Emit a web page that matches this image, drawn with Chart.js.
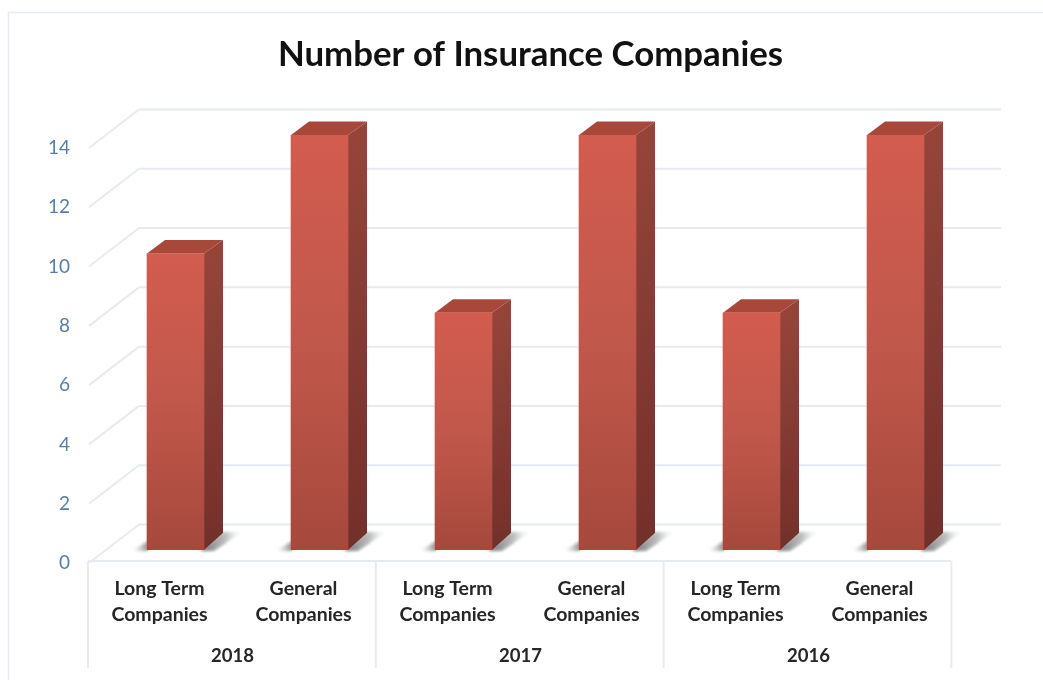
<!DOCTYPE html>
<html>
<head>
<meta charset="utf-8">
<script src="https://cdn.jsdelivr.net/npm/chart.js@4/dist/chart.umd.min.js"></script>
<style>
html,body{margin:0;padding:0;background:#fff;overflow:hidden}
canvas{display:block}
</style>
</head>
<body>
<canvas id="chart" width="1043" height="680"></canvas>
<script>
const categories = [
  ["Long Term", "Companies"], ["General", "Companies"],
  ["Long Term", "Companies"], ["General", "Companies"],
  ["Long Term", "Companies"], ["General", "Companies"]
];
const years = ["2018", "2017", "2016"];
const companyCounts = [10, 14, 8, 14, 8, 14];

const chartTitle = "Number of Insurance Companies";
const gridColor = "#e7eaf0";
const FRONT_SHIFT = 15.5;   // front plane sits left of the bars
const WALL_RIGHT = 1001;

function polygon(ctx, pts, fill) {
  ctx.beginPath();
  pts.forEach((p, i) => i ? ctx.lineTo(p[0], p[1]) : ctx.moveTo(p[0], p[1]));
  ctx.closePath();
  ctx.fillStyle = fill;
  ctx.fill();
}

function line(ctx, x1, y1, x2, y2) {
  ctx.beginPath();
  ctx.moveTo(x1, y1);
  ctx.lineTo(x2, y2);
  ctx.stroke();
}

// Back wall, side wall, floor and the box around the category labels
const wallsPlugin = {
  id: "walls",
  beforeDatasetsDraw(chart) {
    const { ctx, scales: { x, y } } = chart;
    const band = x.getPixelForValue(1) - x.getPixelForValue(0);
    const frontLeft = x.getPixelForValue(0) - band / 2 - FRONT_SHIFT;
    const backLeft = frontLeft + 51;
    ctx.save();

    // page frame
    ctx.strokeStyle = "#e8ebf1";
    ctx.lineWidth = 1.5;
    line(ctx, 8.5, 12, 8.5, 680);
    line(ctx, 8, 12.5, 1043, 12.5);

    ctx.strokeStyle = gridColor;
    ctx.lineWidth = 2;
    y.ticks.forEach(t => {
      const py = y.getPixelForValue(t.value);
      line(ctx, backLeft, py - 25.5, WALL_RIGHT, py - 25.5);
      line(ctx, frontLeft + 1, py + 13, backLeft, py - 25.5);
    });

    // category box
    const y0 = y.getPixelForValue(0) + 11;
    line(ctx, frontLeft, y0, frontLeft + band * 6 - 1, y0);
    for (let i = 0; i <= 3; i++) {
      const px = frontLeft + i * band * 2 - i * 0.2;
      line(ctx, px, y0, px, 668);
    }

    // floor shadows, then side and top faces
    chart.getDatasetMeta(0).data.forEach(bar => {
      const l = bar.x - bar.width / 2, r = bar.x + bar.width / 2;
      const b = bar.base, t = bar.y;
      ctx.save();
      ctx.filter = "blur(1.5px)";
      const shade = ctx.createLinearGradient(r, 0, r + 38, 0);
      shade.addColorStop(0, "rgba(110,112,115,0.9)");
      shade.addColorStop(0.55, "rgba(140,142,145,0.6)");
      shade.addColorStop(1, "rgba(200,202,205,0)");
      polygon(ctx, [[r - 4, b + 1], [r + 19, b - 18], [r + 38, b - 18], [r + 10, b + 1]], shade);
      const lead = ctx.createLinearGradient(l - 15, 0, l, 0);
      lead.addColorStop(0, "rgba(190,190,190,0)");
      lead.addColorStop(1, "rgba(125,128,132,0.85)");
      polygon(ctx, [[l - 16, b + 1], [l + 1, b + 1], [l + 1, b - 9]], lead);
      ctx.restore();

      const side = ctx.createLinearGradient(0, t, 0, b);
      side.addColorStop(0, "#96443a");
      side.addColorStop(1, "#72302a");
      polygon(ctx, [[r, t], [r + 19, t - 13.5], [r + 19, b - 17], [r, b]], side);
      polygon(ctx, [[l, t], [l + 18, t - 13.5], [r + 19, t - 13.5], [r, t]], "#a7483b");
    });
    ctx.restore();
  }
};

new Chart(document.getElementById("chart"), {
  type: "bar",
  plugins: [wallsPlugin],
  data: {
    labels: categories,
    datasets: [{
      data: companyCounts,
      xAxisID: "x",
      yAxisID: "y",
      barThickness: 57,
      backgroundColor(ctx) {
        const s = ctx.chart.scales.y;
        if (!s || ctx.raw === undefined) return "#c0564a";
        const top = s.getPixelForValue(ctx.raw), bottom = s.getPixelForValue(0);
        if (!Number.isFinite(top) || !Number.isFinite(bottom)) return "#c0564a";
        const g = ctx.chart.ctx.createLinearGradient(0, top, 0, bottom);
        g.addColorStop(0, "#d25c4f");
        g.addColorStop(0.5, "#c0584b");
        g.addColorStop(1, "#a6483c");
        return g;
      }
    }]
  },
  options: {
    responsive: false,
    animation: false,
    layout: { padding: { left: 18, right: 0, top: 0, bottom: 0 } },
    plugins: {
      legend: { display: false },
      tooltip: { enabled: false },
      title: {
        display: true,
        text: chartTitle,
        color: "#111111",
        font: { family: "Lato", size: 34.8, weight: "700" },
        padding: { top: 34, bottom: 59.2 }
      }
    },
    scales: {
      y: {
        min: 0,
        max: 14,
        border: { display: false },
        grid: { display: false, drawTicks: false },
        ticks: {
          stepSize: 2,
          color: "#5a7da3",
          padding: 33.5,
          labelOffset: 13,
          font: { family: "Lato", size: 19 }
        },
        afterFit(s) { s.width = 85.5; }
      },
      // empty axis that reserves the margin to the right of the plot
      rightMargin: {
        type: "linear",
        position: "right",
        border: { display: false },
        grid: { display: false, drawTicks: false },
        ticks: { display: false },
        afterFit(s) { s.width = 75.5; }
      },
      x: {
        border: { display: false },
        grid: { display: false, drawTicks: false },
        ticks: {
          color: "#262626",
          padding: 26,
          labelOffset: -16,
          maxRotation: 0,
          autoSkip: false,
          font: { family: "Lato", size: 19.5, weight: "700", lineHeight: 1.33 }
        },
        afterFit(s) { s.height = 84; }
      },
      xYear: {
        type: "category",
        position: "bottom",
        labels: years,
        offset: true,
        border: { display: false },
        grid: { display: false, drawTicks: false },
        ticks: {
          color: "#262626",
          padding: 11,
          labelOffset: -15,
          maxRotation: 0,
          font: { family: "Lato", size: 18.5, weight: "700" }
        },
        afterFit(s) { s.height = 46; }
      }
    }
  }
});
</script>
</body>
</html>
